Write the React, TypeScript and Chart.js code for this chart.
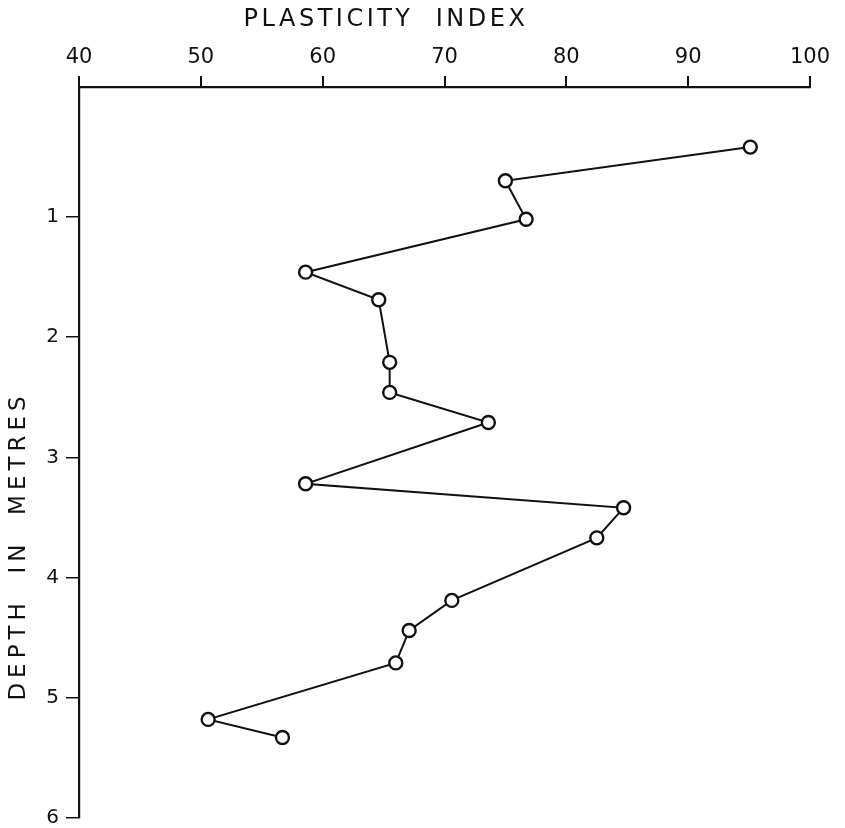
import React, { useEffect, useRef } from "react";
import { Chart, registerables } from "chart.js";

Chart.register(...registerables);

const plasticityIndex = [95.1, 75.0, 76.7, 58.6, 64.6, 65.5, 65.5, 73.6, 58.6, 84.7, 82.5, 70.6, 67.1, 66.0, 50.6, 56.7];
const depthMetres = [0.42, 0.70, 1.02, 1.46, 1.69, 2.21, 2.46, 2.71, 3.22, 3.42, 3.67, 4.19, 4.44, 4.71, 5.18, 5.33];
const xTickValues = [40, 50, 60, 70, 80, 90, 100];
const yTickValues = [1, 2, 3, 4, 5, 6];
const xTitle = "PLASTICITY  INDEX";
const yTitle = "DEPTH  IN  METRES";

const titlesPlugin = {
  id: "titles",
  afterDraw(chart: any) {
    const ctx = chart.ctx;
    ctx.save();
    ctx.fillStyle = "#111";
    ctx.font = "24px 'DejaVu Sans'";
    (ctx as any).letterSpacing = "3.5px";
    ctx.textAlign = "center";
    ctx.textBaseline = "middle";
    ctx.fillText(xTitle, 386, 20);
    ctx.translate(19, 546);
    ctx.rotate(-Math.PI / 2);
    ctx.font = "23px 'DejaVu Sans'";
    (ctx as any).letterSpacing = "5px";
    ctx.fillText(yTitle, 0, 0);
    ctx.restore();
  },
};

export default function App() {
  const ref = useRef<HTMLCanvasElement>(null);
  useEffect(() => {
    if (!ref.current) return;
    const data = plasticityIndex.map((v, i) => ({ x: v, y: depthMetres[i] }));
    const chart = new Chart(ref.current, {
      type: "scatter",
      data: {
        datasets: [
          {
            data,
            showLine: true,
            borderColor: "#111",
            borderWidth: 2,
            backgroundColor: "#fff",
            pointBackgroundColor: "#fff",
            pointBorderColor: "#111",
            pointBorderWidth: 2.4,
            pointRadius: 6.5,
            tension: 0,
          },
        ],
      },
      options: {
        animation: false,
        responsive: false,
        devicePixelRatio: 1,
        layout: { padding: { top: 0, left: 0, right: 35, bottom: 10 } },
        plugins: { legend: { display: false }, tooltip: { enabled: false } },
        scales: {
          x: {
            type: "linear",
            position: "top",
            min: 40,
            max: 100,
            afterFit: (s: any) => { s.height = 87; s.paddingLeft = 0; s.paddingRight = 0; },
            afterBuildTicks: (s: any) => { s.ticks = xTickValues.map((v) => ({ value: v })); },
            grid: { drawOnChartArea: false, drawTicks: true, tickLength: 11, color: "#111", lineWidth: 2 },
            border: { display: true, color: "#111", width: 2.2 },
            ticks: { color: "#111", font: { family: "DejaVu Sans", size: 21 }, padding: 6, maxRotation: 0 },
          },
          y: {
            type: "linear",
            reverse: true,
            min: -0.08,
            max: 6,
            afterFit: (s: any) => { s.width = 79; s.paddingTop = 0; s.paddingBottom = 0; },
            afterBuildTicks: (s: any) => { s.ticks = yTickValues.map((v) => ({ value: v })); },
            grid: { drawOnChartArea: false, drawTicks: true, tickLength: 13, color: "#111", lineWidth: 1.5 },
            border: { display: true, color: "#111", width: 2.2 },
            ticks: { color: "#111", font: { family: "DejaVu Sans", size: 20 }, padding: 7 },
          },
        },
      },
      plugins: [titlesPlugin],
    } as any);
    return () => chart.destroy();
  }, []);
  return (
    <div style={{ position: "absolute", left: 0, top: 0, width: 845, height: 828, background: "#fff" }}>
      <canvas ref={ref} width={845} height={828} />
    </div>
  );
}
